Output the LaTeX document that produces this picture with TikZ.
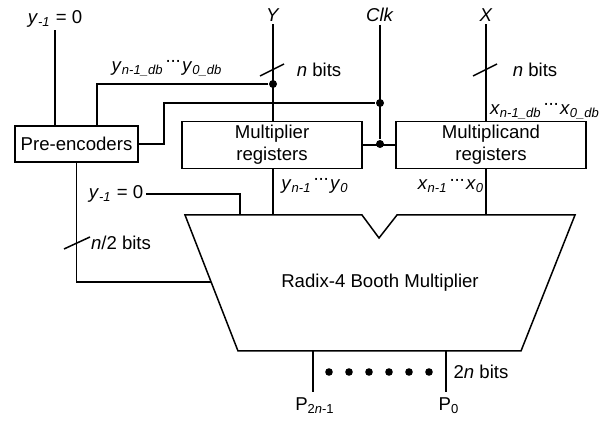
\documentclass[tikz,border=0pt]{standalone}
\usepackage{fontspec}
\setmainfont{Liberation Sans}
\usetikzlibrary{positioning}

\newcommand{\mdots}{\raisebox{0.5ex}{\kern0.8pt\textperiodcentered\kern-0.6pt\textperiodcentered\kern-0.6pt\textperiodcentered\kern0.4pt}}
\newcommand{\sub}[1]{\textsubscript{\textit{#1}}}

\begin{document}
\begin{tikzpicture}[
  x=0.5pt, y=-0.5pt,
  line width=0.75pt,
  every node/.style={font=\fontsize{9.3pt}{11pt}\selectfont, inner sep=1pt},
  regbox/.style={draw, align=center, minimum height=23pt, inner sep=2pt},
  joint/.style={circle, fill=black, inner sep=0pt, minimum size=4pt},
  busdot/.style={circle, fill=black, inner sep=0pt, minimum size=3.8pt},
  lbl/.style={inner sep=1pt}
]
  \useasboundingbox (0,0) rectangle (605,421);

  % blocks
  \node[regbox, minimum width=61.5pt, minimum height=18pt] (pre) at (76.5,144) {Pre-encoders};
  \node[regbox, minimum width=90pt, text width=80pt] (mreg) at (272,145) {Multiplier\\registers};
  \node[regbox, minimum width=95pt, text width=85pt] (creg) at (491,145) {Multiplicand\\registers};

  % multiplier body
  \coordinate (tl) at (185,215);
  \coordinate (n1) at (362,215);
  \coordinate (n2) at (379,238);
  \coordinate (n3) at (397,215);
  \coordinate (tr) at (575,215);
  \coordinate (br) at (521,351);
  \coordinate (bl) at (238,351);
  \draw (tl) -- (n1) -- (n2) -- (n3) -- (tr) -- (br) -- (bl) -- cycle;
  \node (booth) at (380,283) {Radix-4 Booth Multiplier};

  % inputs
  \node[lbl] (ytop) at (55,19) {\textit{y}\sub{-1} = 0};
  \node[lbl] (ylab) at (273,15) {\textit{Y}};
  \node[lbl] (clk) at (380,15) {\textit{Clk}};
  \node[lbl] (xlab) at (486,15) {\textit{X}};

  \draw (ytop.south) -- (ytop.south |- pre.north);
  \draw (ylab.south) -- (ylab.south |- mreg.north);
  \draw (xlab.south) -- (xlab.south |- creg.north);

  % bus slashes
  \draw (260,76) -- (284,64);
  \draw (473,76) -- (497,64);
  \draw (64,249) -- (90,237);
  \node[lbl] (ybits) at (319,70) {\textit{n} bits};
  \node[lbl] (xbits) at (535,70) {\textit{n} bits};

  % feedback to pre-encoders
  \node[joint] (ydot) at (273,84) {};
  \node[joint] (cdot1) at (380,103) {};
  \node[joint] (cdot2) at (380,144) {};
  \draw (ydot) -| ([xshift=10.25pt]pre.north);
  \draw (pre.east) -- ++(25,0) |- (cdot1);
  \draw (clk.south) -- (cdot2);
  \draw (mreg.east) -- (creg.west);
  \node[lbl] (ydb) at (167,68) {\textit{y}\sub{n-1\_db}\mdots\textit{y}\sub{0\_db}};
  \node[lbl] (xdb) at (545,111) {\textit{x}\sub{n-1\_db}\mdots\textit{x}\sub{0\_db}};

  % register outputs
  \draw (mreg.south -| ylab) -- (ylab |- tl);
  \draw (creg.south -| xlab) -- (xlab |- tl);
  \node[lbl] (yreg) at (315,186) {\textit{y}\sub{n-1}\mdots\textit{y}\sub{0}};
  \node[lbl] (xreg) at (451,186) {\textit{x}\sub{n-1}\mdots\textit{x}\sub{0}};

  % y_{-1} and encoder bits
  \node[lbl, anchor=east] (ylow) at (146,194) {\textit{y}\sub{-1} = 0};
  \coordinate (yin) at (240,215);
  \draw (ylow.east) -| (yin);
  \coordinate (ein) at (211,282);
  \draw (pre.south) |- (ein);
  \node[lbl] (ebits) at (121,243) {\textit{n}/2 bits};

  % product outputs
  \coordinate (pm) at (313,351);
  \coordinate (pl) at (446,351);
  \node[lbl] (phi) at (315,406) {P\textsubscript{2\textit{n}-1}};
  \node[lbl] (plo) at (449,406) {P\textsubscript{0}};
  \draw (pm) -- (pm |- 0,392);
  \draw (pl) -- (pl |- 0,392);
  \foreach \i in {0,...,5} {
    \node[busdot] (pd\i) at (329+20*\i,372) {};
  }
  \node[lbl] (pbits) at (481,372) {2\textit{n} bits};
\end{tikzpicture}
\end{document}
